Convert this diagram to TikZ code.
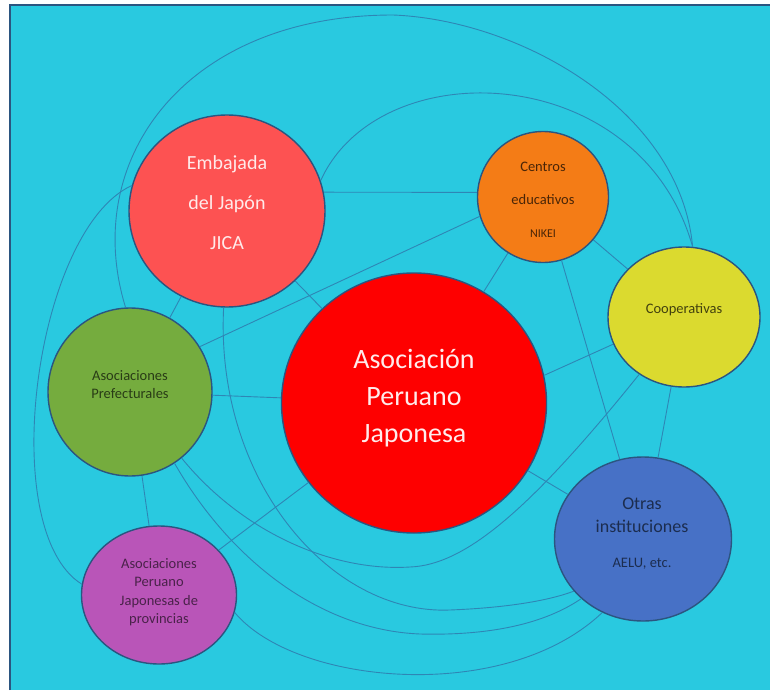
\documentclass[tikz,border=0pt]{standalone}
\usepackage{fontspec}
\setmainfont{Carlito}
\usetikzlibrary{shapes.geometric}

\begin{document}
\begin{tikzpicture}[x=1pt,y=-1pt,
  bubble/.style={ellipse,draw=rim,line width=1.4pt,inner sep=0pt},
  link/.style={draw=wire,line width=0.9pt},
  words/.style={align=center,inner sep=0pt}]
\definecolor{sea}{HTML}{29C9E0}
\definecolor{rim}{HTML}{2B5580}
\definecolor{wire}{HTML}{2E86B5}
\definecolor{embassy}{HTML}{FD5252}
\definecolor{schools}{HTML}{F47C16}
\definecolor{coops}{HTML}{DBDA2F}
\definecolor{prefs}{HTML}{75AC3E}
\definecolor{apjred}{HTML}{FE0000}
\definecolor{others}{HTML}{4771C6}
\definecolor{provs}{HTML}{B955B8}
\useasboundingbox (0,0) rectangle (770,690);
\fill[sea] (10,5) rectangle (770,690);
\draw[rim,line width=1.2pt] (10,690) -- (10,5) -- (770,5);

\foreach \nm/\crlr/\px/\py/\w/\h in {emb/embassy/227/211/196/192,
    cen/schools/543/197/131/131, coop/coops/684/317/152/140,
    pref/prefs/130/392/164/168, apj/apjred/414/403/265/260,
    otras/others/643/539/177/164, prov/provs/159/595/155/138}
  {\node[bubble,fill=\crlr,minimum width=\w pt,minimum height=\h pt] (\nm) at (\px,\py) {};}

\foreach \a/\b in {emb.11/cen.176, emb/apj, emb/pref, cen/apj, cen/coop,
    cen.197/pref.33, pref/apj, apj.12/coop.201, apj/otras, apj/prov,
    cen/otras, coop/otras, pref/prov}
  {\draw[link] (\a) -- (\b);}

\draw[link] (pref.93) .. controls (80,160) and (185,15) .. (393,15)
  .. controls (520,20) and (680,110) .. (coop.83);
\draw[link] (emb.18) .. controls (380,50) and (640,60) .. (coop.83);
\draw[link] (emb.165) .. controls (35,230) and (-5,530) .. (prov.172);
\draw[link] (pref.-52) .. controls (240,530) and (330,572) .. (410,567)
  .. controls (465,565) and (530,510) .. (coop.232);
\draw[link] (emb.-92) .. controls (215,480) and (330,615) .. (450,610)
  .. controls (500,608) and (545,602) .. (otras.217);
\draw[link] (pref.-58) .. controls (230,560) and (320,630) .. (420,634)
  .. controls (500,636) and (550,620) .. (otras.224);
\draw[link] (prov.-13) .. controls (295,685) and (505,705) .. (otras.241);

\node[words,text=white!88!embassy,font=\fontsize{20}{40}\selectfont] (emb-t) at (227,203) {Embajada\\del Japón\\JICA};
\node[words,text=schools!30!black,font=\fontsize{14.5}{33}\selectfont] (cen-t) at (543,200) {Centros\\educativos\\{\fontsize{12}{14}\selectfont NIKEI}};
\node[words,text=coops!30!black,font=\fontsize{14.5}{18}\selectfont] (coop-t) at (684,310) {Cooperativas};
\node[words,text=prefs!35!black,font=\fontsize{14.5}{18}\selectfont] (pref-t) at (130,385) {Asociaciones\\Prefecturales};
\node[words,text=white!92!apjred,font=\fontsize{28}{37}\selectfont] (apj-t) at (414,398) {Asociación\\Peruano\\Japonesa};
\node[words,text=others!40!black,font=\fontsize{18}{23}\selectfont] (otras-t) at (642,534) {Otras\\instituciones\\[12pt]{\fontsize{14.5}{18}\selectfont AELU, etc.}};
\node[words,text=provs!40!black,font=\fontsize{14.5}{18.5}\selectfont] (prov-t) at (159,592) {Asociaciones\\Peruano\\Japonesas de\\provincias};
\end{tikzpicture}
\end{document}
